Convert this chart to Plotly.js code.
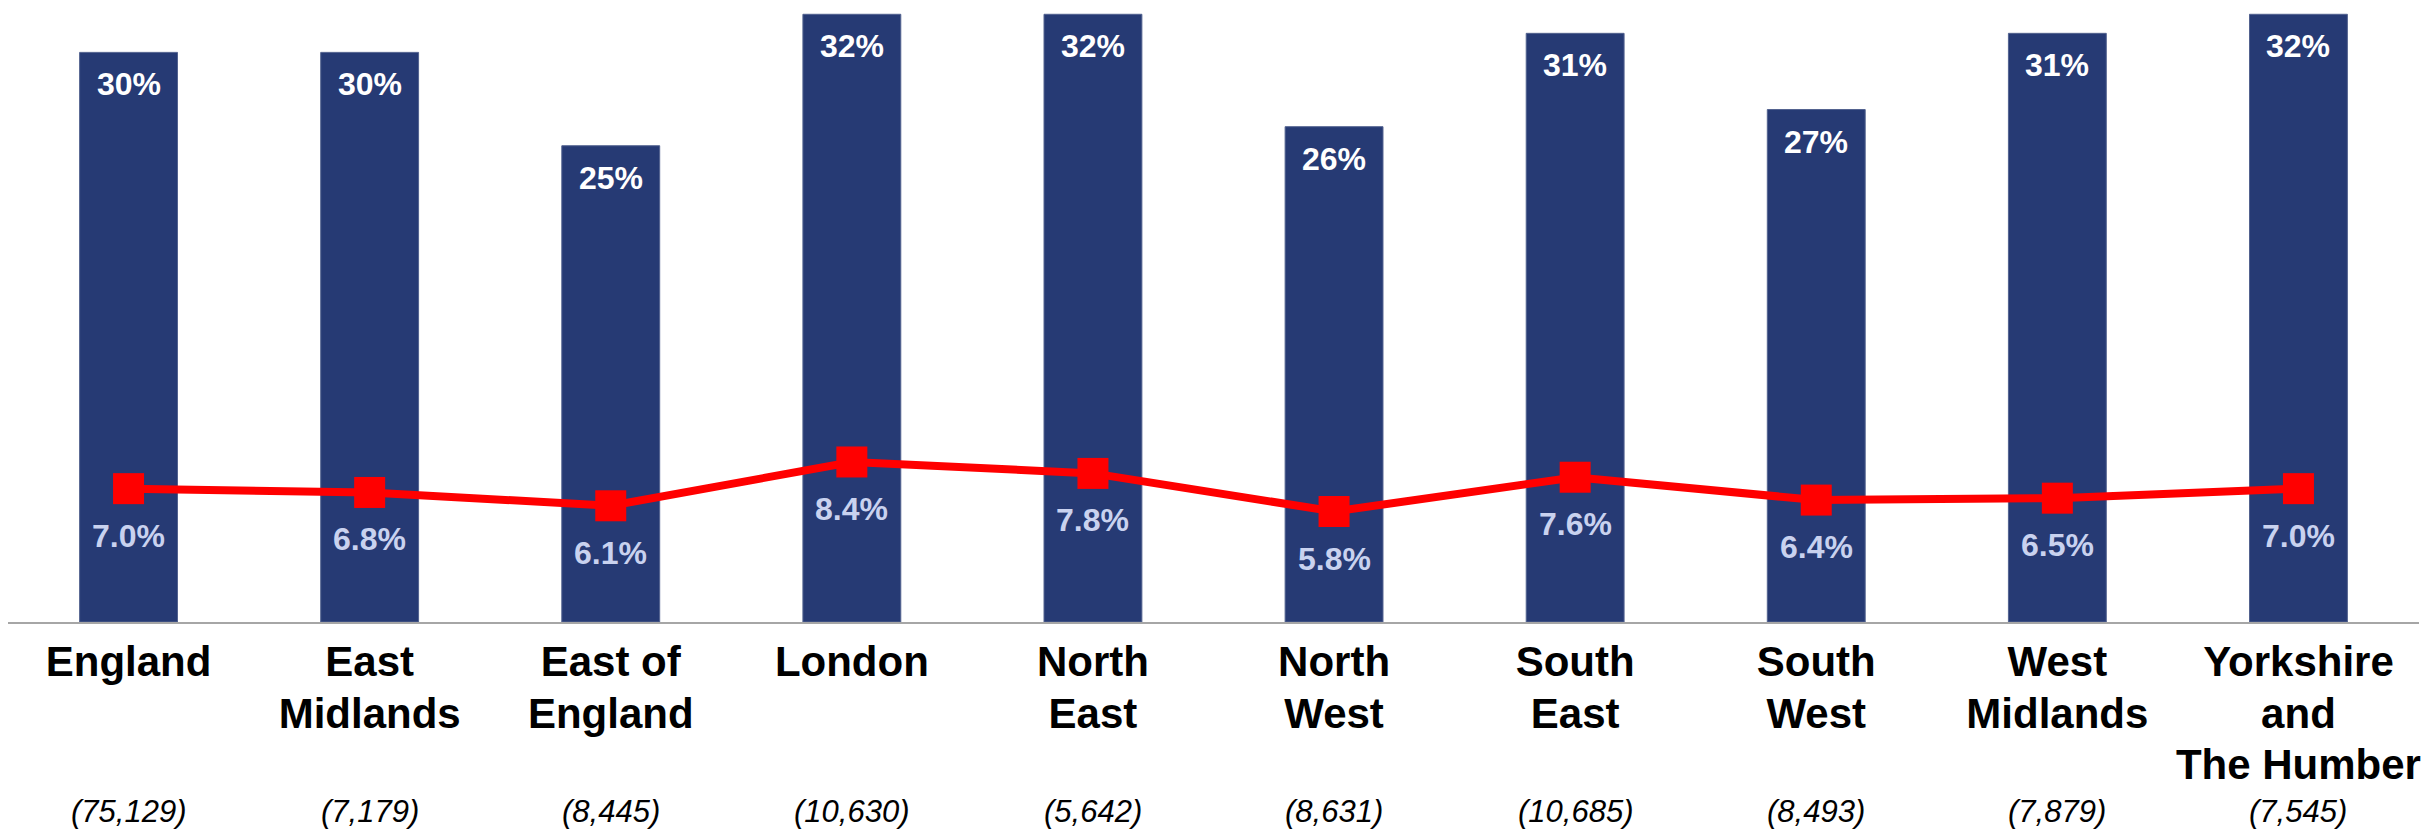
<!DOCTYPE html>
<html>
<head>
<meta charset="utf-8">
<script src="https://cdn.plot.ly/plotly-3.0.1.min.js"></script>
<style>
  html, body { margin: 0; padding: 0; background: #ffffff; }
  #chart { width: 2425px; height: 832px; }
</style>
</head>
<body>
<div id="chart"></div>
<script>
// ---- data ----
const regions = ['England', 'East Midlands', 'East of England', 'London', 'North East',
                 'North West', 'South East', 'South West', 'West Midlands', 'Yorkshire and The Humber'];
const tickLabels = ['England', 'East<br>Midlands', 'East of<br>England', 'London', 'North<br>East',
                    'North<br>West', 'South<br>East', 'South<br>West', 'West<br>Midlands', 'Yorkshire<br>and<br>The Humber'];
const sampleSizes = ['(75,129)', '(7,179)', '(8,445)', '(10,630)', '(5,642)',
                     '(8,631)', '(10,685)', '(8,493)', '(7,879)', '(7,545)'];
const barValues = [29.9, 29.9, 25.0, 31.9, 31.9, 26.0, 30.9, 26.9, 30.9, 31.9];
const lineValues = [7.0, 6.8, 6.1, 8.4, 7.8, 5.8, 7.6, 6.4, 6.5, 7.0];

// ---- styles ----
const FONT = 'Liberation Sans, Arial, Helvetica, sans-serif';
const NAVY = '#263a74';
const RED = '#ff0000';

const barTrace = {
  type: 'bar',
  x: regions,
  y: barValues,
  width: 0.406,
  marker: { color: NAVY, line: { color: '#52628f', width: 1 } },
  hoverinfo: 'x+y',
  showlegend: false
};

const lineTrace = {
  type: 'scatter',
  mode: 'lines+markers',
  x: regions,
  y: lineValues,
  line: { color: RED, width: 8 },
  marker: { symbol: 'square', size: 31, color: RED },
  hoverinfo: 'x+y',
  showlegend: false
};

const annotations = [];
regions.forEach((r, i) => {
  annotations.push({
    x: r, y: barValues[i], xref: 'x', yref: 'y',
    text: '<b>' + Math.round(barValues[i]) + '%</b>',
    showarrow: false, yanchor: 'middle', xanchor: 'center', yshift: -32,
    font: { family: FONT, size: 32, color: '#ffffff' }
  });
  annotations.push({
    x: r, y: lineValues[i], xref: 'x', yref: 'y',
    text: '<b>' + lineValues[i].toFixed(1) + '%</b>',
    showarrow: false, yanchor: 'middle', xanchor: 'center', yshift: -47,
    font: { family: FONT, size: 32, color: '#c9d2ef' }
  });
  annotations.push({
    x: r, y: 0, xref: 'x', yref: 'paper',
    text: '<i>' + sampleSizes[i] + '</i>',
    showarrow: false, yanchor: 'middle', xanchor: 'center', yshift: -189,
    font: { family: FONT, size: 31, color: '#000000' }
  });
});

// tick labels: glyphs at 42px, line pitch from the 39.5px base font (tighter spacing like the reference)
const styledTicks = tickLabels.map(t =>
  t.split('<br>').map(line => '<span style="font-size:42px"><b>' + line + '</b></span>').join('<br>'));

const layout = {
  width: 2425,
  height: 832,
  margin: { l: 8, r: 6, t: 0, b: 210, pad: 0 },
  paper_bgcolor: '#ffffff',
  plot_bgcolor: '#ffffff',
  showlegend: false,
  xaxis: {
    type: 'category',
    range: [-0.5, 9.5],
    tickvals: regions,
    ticktext: styledTicks,
    ticks: '',
    ticklabelstandoff: 5,
    tickfont: { family: FONT, size: 39.5, color: '#000000' },
    showline: true,
    linecolor: '#a6a6a6',
    linewidth: 2,
    showgrid: false,
    zeroline: false,
    fixedrange: true
  },
  yaxis: {
    range: [0, 32.65],
    visible: false,
    showgrid: false,
    zeroline: false,
    fixedrange: true
  },
  annotations: annotations
};

Plotly.newPlot('chart', [barTrace, lineTrace], layout, { displayModeBar: false, staticPlot: true });
</script>
</body>
</html>
